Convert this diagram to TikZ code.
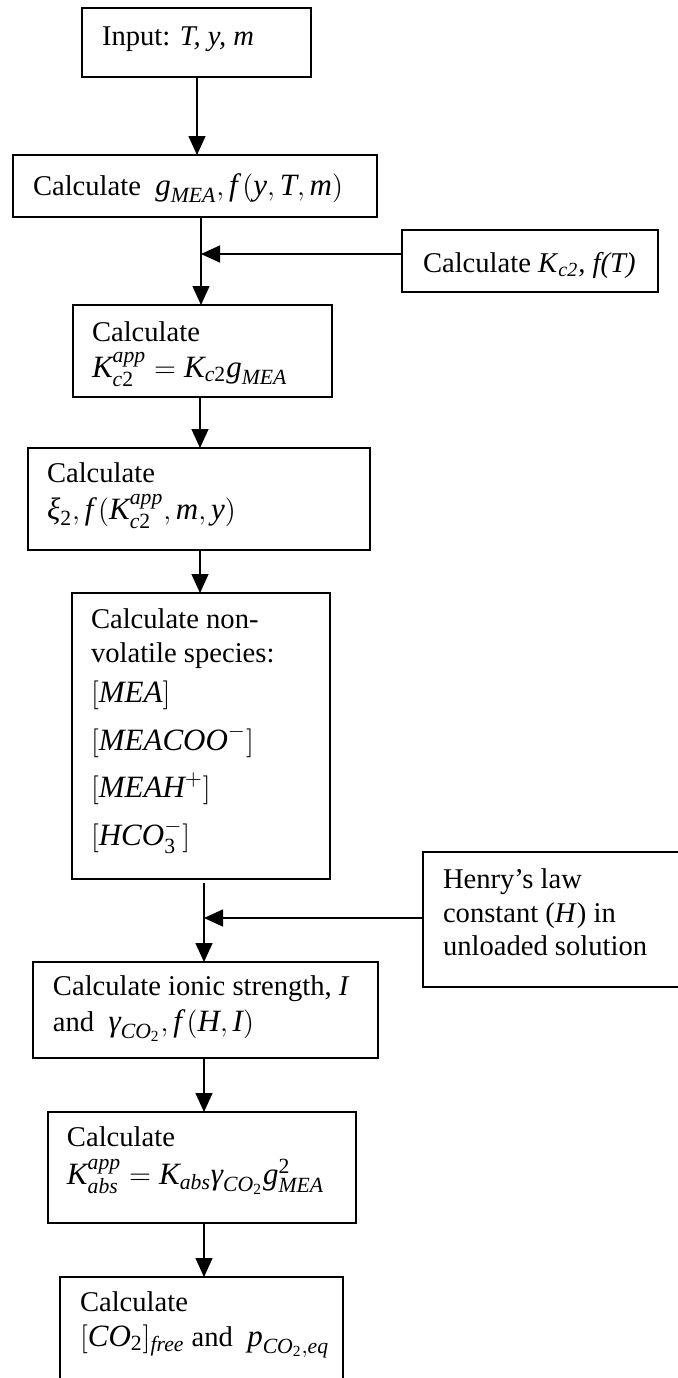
\documentclass[tikz,border=0pt]{standalone}
\usepackage{amsmath}
\usepackage{fontspec}
\setmainfont{Liberation Serif}
\usetikzlibrary{arrows.meta}
\newcommand\mv[1]{\textit{#1}}
\newcommand\mth[1]{{\fontsize{15.5}{18}\selectfont$#1$}}
\begin{document}
\begin{tikzpicture}[x=0.5pt,y=-0.5pt,
  box/.style={draw, line width=0.75pt, inner sep=0pt, outer sep=0pt},
  txt/.style={anchor=base west, inner sep=0pt, outer sep=0pt, font=\fontsize{14.3}{17}\selectfont},
  arr/.style={line width=0.7pt, -{Triangle[length=9.5pt,width=8.5pt]}}]
\useasboundingbox (0,0) rectangle (677,1378);

% boxes
\node[box, minimum width=114.5pt, minimum height=34.5pt] (b1) at (196.5,42.5) {};
\node[box, minimum width=182pt, minimum height=31pt] (b2) at (195,186) {};
\node[box, minimum width=128pt, minimum height=31pt] (kc) at (530,261) {};
\node[box, minimum width=129.5pt, minimum height=46pt] (b3) at (202.5,351) {};
\node[box, minimum width=171pt, minimum height=51pt] (b4) at (199,499) {};
\node[box, minimum width=129pt, minimum height=143pt] (b5) at (201,736) {};
\node[box, minimum width=128pt, minimum height=67.5pt] (hb) at (551,919.5) {};
\node[box, minimum width=172.5pt, minimum height=48pt] (b6) at (205.5,1010) {};
\node[box, minimum width=154pt, minimum height=55.5pt] (b7) at (202,1167.5) {};
\node[box, minimum width=141.5pt, minimum height=52.5pt] (b8) at (201.5,1329.5) {};

% texts
\node[txt] (t1) at (102,45) {Input: \textit{T, y, m}};
\node[txt] (t2) at (33,195) {Calculate \ \mth{\mv{g}_{\mv{MEA}}, \mv{f}\,(\mv{y},\mv{T},\mv{m})}};
\node[txt] (tk) at (423,272) {Calculate \textit{K}\textsubscript{\textit{c2}}\textit{, f(T)}};
\node[txt] (t3a) at (92,341) {Calculate};
\node[txt] (t3b) at (92,377) {\mth{\mv{K}^{\mv{app}}_{\mv{c}\text{2}} = \mv{K}_{\mv{c}\text{2}}\mv{g}_{\mv{MEA}}}};
\node[txt] (t4a) at (47,482) {Calculate};
\node[txt] (t4b) at (47,519) {\mth{\mv{ξ}_{\text{2}}, \mv{f}\,(\mv{K}^{\mv{app}}_{\mv{c}\text{2}},\mv{m},\mv{y})}};
\node[txt] (t5a) at (91,628) {Calculate non-};
\node[txt] (t5b) at (91,662) {volatile species:};
\node[txt] (t5c) at (91,702) {\mth{[\mv{MEA}]}};
\node[txt] (t5d) at (91,750) {\mth{[\mv{MEACOO}^{-}]}};
\node[txt] (t5e) at (91,797) {\mth{[\mv{MEAH}^{+}]}};
\node[txt] (t5f) at (91,845) {\mth{[\mv{HCO}^{-}_{\text{3}}]}};
\node[txt] (th1) at (443,888) {Henry’s law};
\node[txt] (th2) at (443,922) {constant (\textit{H}) in};
\node[txt] (th3) at (443,955) {unloaded solution};
\node[txt] (t6a) at (53,995) {Calculate ionic strength, \textit{I}};
\node[txt] (t6b) at (53,1031) {and \ \mth{\mv{γ}_{\mv{CO}_{\text{2}}}, \mv{f}\,(\mv{H},\mv{I})}};
\node[txt] (t7a) at (67,1146) {Calculate};
\node[txt] (t7b) at (67,1184) {\mth{\mv{K}^{\mv{app}}_{\mv{abs}} = \mv{K}_{\mv{abs}}\mv{γ}_{\mv{CO}_{\text{2}}}\mv{g}^{\text{2}}_{\mv{MEA}}}};
\node[txt] (t8a) at (80,1311) {Calculate};
\node[txt] (t8b) at (80,1346) {\mth{[\mv{CO}_{\text{2}}]_{\mv{free}}} and \ \mth{\mv{p}_{\mv{CO}_{\text{2}},\mv{eq}}}};

% connector helpers
\coordinate (xa) at (197,0);
\coordinate (j1) at (201,254);
\coordinate (xc) at (200,0);
\coordinate (s6) at (204,883);
\coordinate (j2) at (204,918);
\coordinate (xd) at (204,0);

% connectors
\draw[arr] (b1.south -| xa) -- (b2.north -| xa);
\draw[arr] (b2.south -| j1) -- (b3.north -| j1);
\draw[arr] (kc.west |- j1) -- (j1);
\draw[arr] (b3.south -| xc) -- (b4.north -| xc);
\draw[arr] (b4.south -| xc) -- (b5.north -| xc);
\draw[arr] (s6) -- (b6.north -| s6);
\draw[arr] (hb.west |- j2) -- (j2);
\draw[arr] (b6.south -| xd) -- (b7.north -| xd);
\draw[arr] (b7.south -| xd) -- (b8.north -| xd);
\end{tikzpicture}
\end{document}
